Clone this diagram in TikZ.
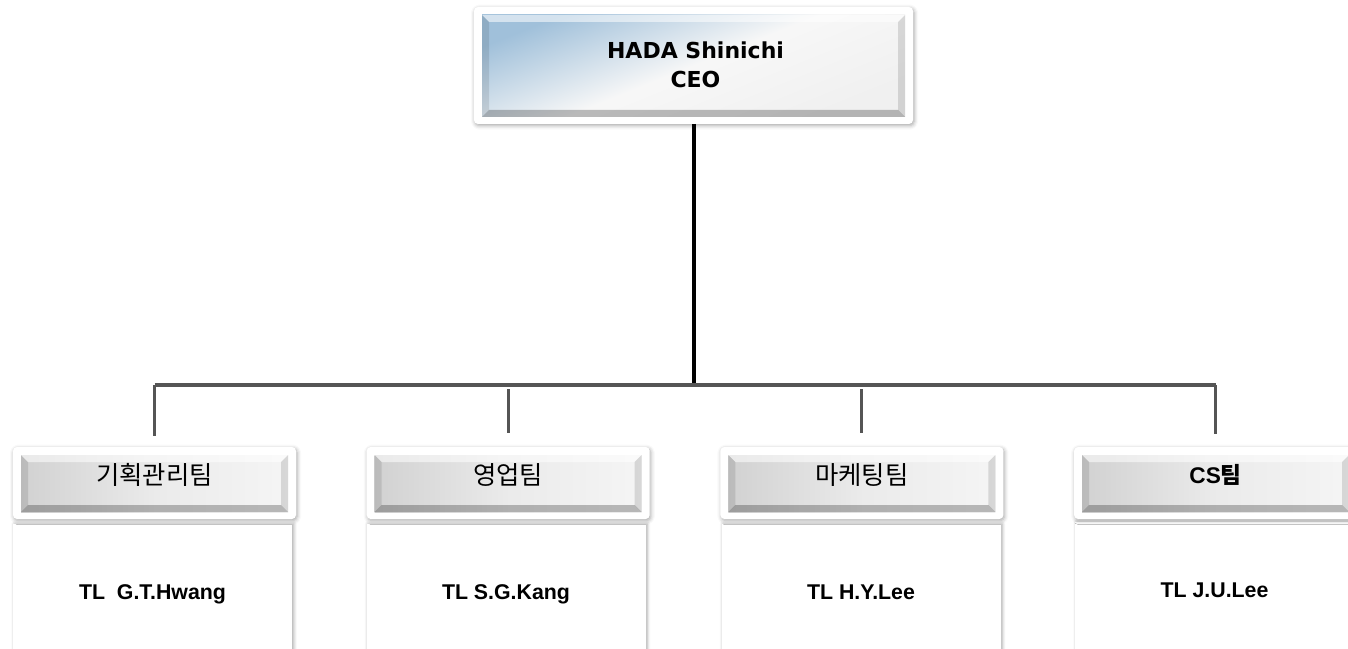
\documentclass[tikz,border=0pt]{standalone}
\usepackage{fontspec}
\setmainfont{Liberation Sans}
\newfontfamily\krfont{Noto Sans CJK KR}
\newfontfamily\ceofont{DejaVu Sans}
\usetikzlibrary{calc,shadows.blur}

\definecolor{ceoblue}{RGB}{160,192,218}
\definecolor{linegray}{RGB}{85,85,85}

\begin{document}
\begin{tikzpicture}[x=0.75pt,y=-0.75pt,
  frame/.style={fill=white, rounded corners=3pt, outer sep=0pt,
    blur shadow={shadow xshift=0.8pt, shadow yshift=-1.2pt, shadow blur radius=3pt, shadow opacity=35}},
  teamframe/.style={frame, minimum width=212.25pt, minimum height=54pt},
  namebox/.style={fill=white, outer sep=0pt, minimum width=209.25pt, minimum height=102pt,
    text depth=0pt, font=\fontsize{16}{19}\selectfont\bfseries,
    blur shadow={shadow xshift=1.2pt, shadow yshift=0pt, shadow blur radius=2.5pt, shadow opacity=35}},
  ceoface/.style={top color=ceoblue, bottom color=black!6, middle color=black!3, shading angle=22},
  teamface/.style={left color=black!18, right color=black!4, middle color=black!8},
  bevtop/.style={fill=white, fill opacity=.55},
  bevleft/.style={fill=black, fill opacity=.1},
  bevbot/.style={fill=black, fill opacity=.25},
  bevright/.style={fill=black, fill opacity=.12},
  teamlabel/.style={font=\fontsize{19}{22}\selectfont\krfont},
  trunk/.style={line width=3pt, black},
  bus/.style={line width=3pt, linegray},
  drop/.style={line width=2.25pt, linegray}]
  \useasboundingbox (0,0) rectangle (1348,649);

  % name boxes
  \node[namebox] (n1) at (152.5,592) {TL~~G.T.Hwang};
  \node[namebox] (n2) at (506,592) {TL S.G.Kang};
  \node[namebox] (n3) at (861,592) {TL H.Y.Lee};
  \node[namebox] (n4) at (1214.5,590) {TL J.U.Lee};

  % frames
  \node[frame, minimum width=329.25pt, minimum height=87.75pt] (ceo) at (693.5,65.5) {};
  \node[teamframe] (t1) at (154.5,483) {};
  \node[teamframe] (t2) at (508.2,483) {};
  \node[teamframe] (t3) at (861.9,483) {};
  \node[teamframe] (t4) at (1215.6,483) {};

  % bevels
  \foreach \n/\f in {ceo/ceoface,t1/teamface,t2/teamface,t3/teamface,t4/teamface}{
    \coordinate (A) at ([shift={(8,8)}]\n.north west);
    \coordinate (B) at ([shift={(-8,8)}]\n.north east);
    \coordinate (C) at ([shift={(-8,-7)}]\n.south east);
    \coordinate (D) at ([shift={(8,-7)}]\n.south west);
    \coordinate (a) at ([shift={(7,7)}]A);
    \coordinate (b) at ([shift={(-7,7)}]B);
    \coordinate (c) at ([shift={(-7,-7)}]C);
    \coordinate (d) at ([shift={(7,-7)}]D);
    \shade[\f] (A) rectangle (C);
    \fill[bevtop] (A) -- (B) -- (b) -- (a) -- cycle;
    \fill[bevleft] (A) -- (a) -- (d) -- (D) -- cycle;
    \fill[bevbot] (D) -- (d) -- (c) -- (C) -- cycle;
    \fill[bevright] (B) -- (C) -- (c) -- (b) -- cycle;
  }

  % texts
  \node[align=center, font=\fontsize{16.5}{21.75}\selectfont\ceofont\bfseries] (ceoname) at (695.5,65) {HADA Shinichi\\CEO};
  \node[teamlabel] (l1) at (t1.center |- 0,475) {기획관리팀};
  \node[teamlabel] (l2) at (t2.center |- 0,475) {영업팀};
  \node[teamlabel] (l3) at (t3.center |- 0,475) {마케팅팀};
  \node[teamlabel, font=\fontsize{17}{20}\selectfont\bfseries] (l4) at (t4.center |- 0,475) {CS{\krfont\bfseries 팀}};

  % connectors
  \coordinate (lvl) at (0,385);
  \draw[trunk] (ceo.south) -- (ceo.south |- lvl);
  \draw[bus] (t1.north |- lvl) -- (t4.north |- lvl);
  \draw[drop, shorten >=8.25pt] (t1.north |- lvl) -- (t1.north);
  \draw[drop, shorten <=3pt, shorten >=10.5pt] (t2.north |- lvl) -- (t2.north);
  \draw[drop, shorten <=3pt, shorten >=10.5pt] (t3.north |- lvl) -- (t3.north);
  \draw[drop, shorten >=9.75pt] (t4.north |- lvl) -- (t4.north);
\end{tikzpicture}
\end{document}
